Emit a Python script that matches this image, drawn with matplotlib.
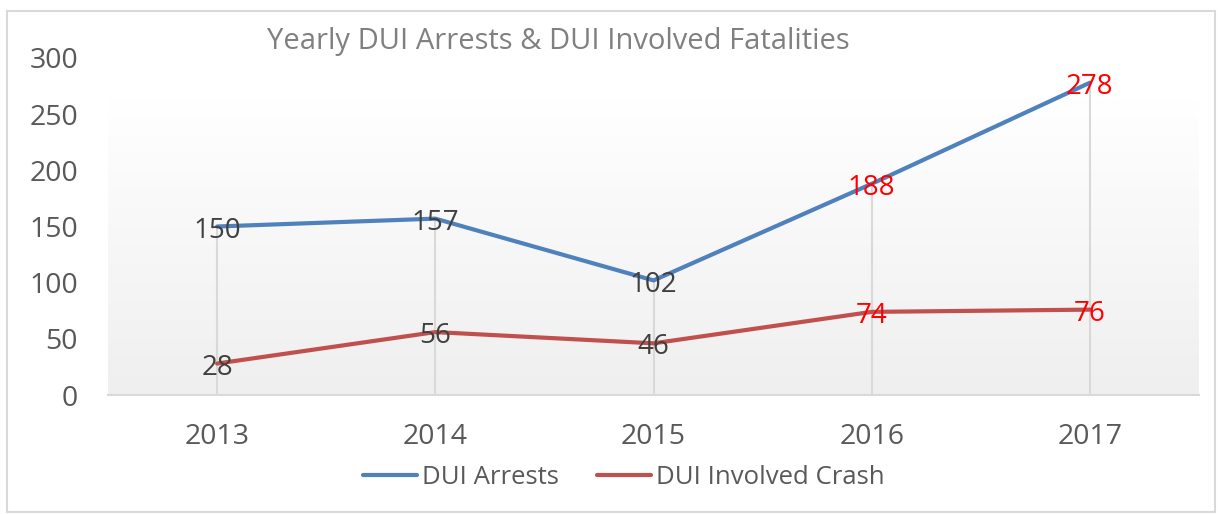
import numpy as np
import matplotlib
matplotlib.use('Agg')
import matplotlib.pyplot as plt
from matplotlib.patches import Rectangle

plt.rcParams['font.family'] = ['Open Sans', 'DejaVu Sans']

years = ['2013', '2014', '2015', '2016', '2017']
arrests = [150, 157, 102, 188, 278]
crashes = [28, 56, 46, 74, 76]
label_colors = ['#404040', '#404040', '#404040', 'red', 'red']

BLUE = '#4F81BD'
RED = '#C0504D'
GRAY_TXT = '#595959'

fig = plt.figure(figsize=(12.21, 5.14), dpi=100)
ax = fig.add_axes([108 / 1221, 1 - 395 / 514, 1091 / 1221, 337 / 514])

x = np.arange(len(years))

# gradient plot-area fill (white at top, light gray at bottom)
grad = np.linspace(1.0, 0.0, 256).reshape(-1, 1)
top_c = np.array([1.0, 1.0, 1.0])
bot_c = np.array([0.937, 0.937, 0.937])
img = grad[..., None] * top_c + (1 - grad[..., None]) * bot_c
ax.imshow(img, extent=(-0.5, 4.5, 0, 265), aspect='auto', zorder=0,
          interpolation='bilinear')

# drop lines
tops = [max(a, c) for a, c in zip(arrests, crashes)]
ax.vlines(x, 0, tops, color='#d9d9d9', linewidth=1.5, zorder=1)

ax.plot(x, arrests, color=BLUE, linewidth=3, label='DUI Arrests', zorder=3,
        solid_capstyle='round')
ax.plot(x, crashes, color=RED, linewidth=3, label='DUI Involved Crash', zorder=3,
        solid_capstyle='round')

for series in (arrests, crashes):
    for xi, v, c in zip(x, series, label_colors):
        ax.annotate(str(v), (xi, v), xytext=(0, -3), textcoords='offset points',
                    ha='center', va='center', fontsize=20, color=c, zorder=4)

ax.set_xlim(-0.5, 4.5)
ax.set_ylim(0, 300)
ax.set_yticks(range(0, 301, 50))
ax.set_xticks(x)
ax.set_xticklabels(years)
ax.tick_params(axis='both', length=0, labelsize=20.5, labelcolor=GRAY_TXT)
ax.tick_params(axis='y', pad=21.5)
ax.tick_params(axis='x', pad=20)
for s in ['left', 'right', 'top']:
    ax.spines[s].set_visible(False)
ax.spines['bottom'].set_color('#d9d9d9')
ax.spines['bottom'].set_linewidth(1.5)
ax.set_facecolor('white')

fig.text(558 / 1221, 1 - 42 / 514, 'Yearly DUI Arrests & DUI Involved Fatalities',
         ha='center', va='center', fontsize=21, color='#808080')

leg = fig.legend(loc='center', bbox_to_anchor=(624 / 1221, 1 - 477 / 514), ncol=2,
                 frameon=False, fontsize=18.5, handlelength=2.1, columnspacing=1.5,
                 handletextpad=0.2)
for t in leg.get_texts():
    t.set_color(GRAY_TXT)

fig.patches.append(Rectangle((7 / 1221, 2 / 514), 1208 / 1221, 501 / 514,
                             transform=fig.transFigure, fill=False,
                             edgecolor='#d9d9d9', linewidth=1.5))

fig.savefig('out.png', dpi=100)
